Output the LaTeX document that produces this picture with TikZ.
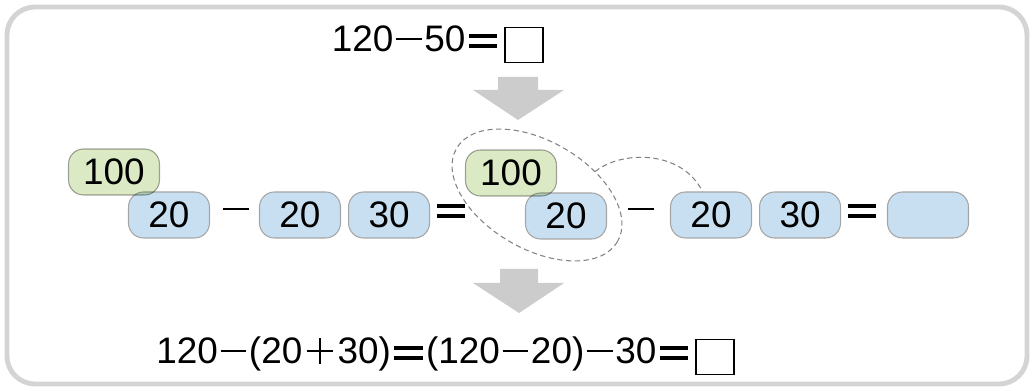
\documentclass[tikz,border=0pt]{standalone}
\usepackage{fontspec}
\setmainfont{Liberation Sans}
\usetikzlibrary{positioning}
\definecolor{boxblue}{RGB}{200,223,242}
\definecolor{boxgreen}{RGB}{219,234,196}
\definecolor{boxline}{RGB}{165,165,165}
\definecolor{frameg}{RGB}{212,212,212}
\definecolor{arrowg}{RGB}{204,204,204}
\definecolor{linkg}{RGB}{130,130,130}
% minus, plus and equals signs drawn as rules
\newcommand{\mi}{\kern1.5pt\rule[0.3em]{0.7em}{0.065em}\kern1.5pt}
\newcommand{\pl}{\kern2.5pt\rlap{\rule[0.3em]{0.72em}{0.065em}}\kern0.3275em\rule[-0.03em]{0.065em}{0.72em}\kern0.3275em\kern2.5pt}
\newcommand{\eqs}{\kern2pt\rlap{\rule[0.09em]{0.76em}{0.1em}}\rule[0.37em]{0.76em}{0.1em}\kern2pt}
\tikzset{
	numbox/.style={draw=boxline,line width=0.6pt,rounded corners=0.3cm,
		minimum width=1.62cm,minimum height=0.92cm,inner sep=0pt,
		font=\fontsize{21}{25}\selectfont},
	bluebox/.style={numbox,fill=boxblue},
	greenbox/.style={numbox,fill=boxgreen,blend mode=multiply,minimum width=1.82cm},
	ansbox/.style={draw,line width=0.7pt,fill=white,minimum width=0.76cm,
		minimum height=0.7cm,inner sep=0pt},
	eqtext/.style={font=\fontsize{21}{25}\selectfont,inner sep=0pt,
		text height=0.72em,text depth=0pt},
	link/.style={draw=linkg,dash pattern=on 3pt off 2pt,line width=0.6pt}
}
\begin{document}
\begin{tikzpicture}[x=0.02cm,y=-0.02cm]
\useasboundingbox (0,0) rectangle (1034,391);
\draw[frameg,line width=2.8pt,rounded corners=0.56cm] (7,7) rectangle (1027,384);

% first line
\node[ansbox] (topbox) at (524,45) {};
\node[eqtext,anchor=east] (topeq) at ([xshift=-2pt]topbox.west) {120\mi50\eqs};
\fill[arrowg] (498,77) -- (538,77) -- (538,90) -- (564,90) -- (518,120) -- (473,90) -- (498,90) -- cycle;

% the boxes
\node[bluebox] (a20) at (169,215) {20};
\node[greenbox] (a100) at (114,172) {100};
\node[eqtext] (am) at (236,215) {\mi};
\node[bluebox] (b20) at (300,215) {20};
\node[bluebox,right=0.14cm of b20] (b30) {30};
\node[eqtext] (aeq) at (451,215) {\eqs};

\node[bluebox] (d20) at (566,216) {20};
\node[greenbox] (d100) at (511,173) {100};
\node[eqtext] (bm) at (641,215) {\mi};
\node[bluebox] (e20) at (711,215) {20};
\node[bluebox,right=0.14cm of e20] (e30) {30};
\node[eqtext] (beq) at (862,215) {\eqs};
\node[bluebox] (ans) at (928,215) {};

\draw[link,rotate around={-30:(537,195)}] (537,195) ellipse [x radius=93,y radius=54];
\coordinate (lp) at (595,171.6);
\draw[link] (lp) .. controls (622,150) and (682,150) .. (e20.110);

% last line
\fill[arrowg] (500,269) -- (538,269) -- (538,283) -- (564,283) -- (519,313) -- (473,283) -- (500,283) -- cycle;
\node[ansbox] (botbox) at (715,357) {};
\node[eqtext,anchor=east] (boteq) at ([xshift=-2pt]botbox.west) {120\mi(20\pl30)\eqs(120\mi20)\mi30\eqs};
\end{tikzpicture}
\end{document}
